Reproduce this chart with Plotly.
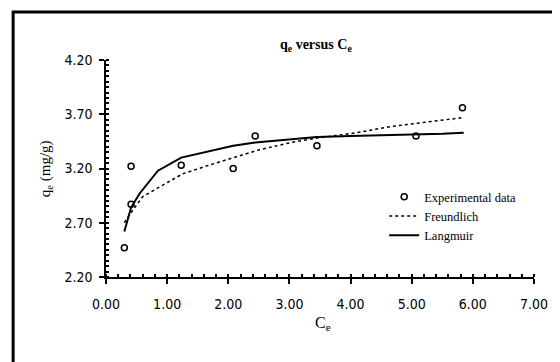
import plotly.graph_objects as go

# Experimental data
exp_x = [0.30, 0.41, 0.41, 1.23, 2.08, 2.44, 3.45, 5.07, 5.83]
exp_y = [2.47, 3.22, 2.87, 3.23, 3.20, 3.50, 3.41, 3.50, 3.76]

# Freundlich fit (dotted)
fr_x = [0.30, 0.39, 0.60, 0.93, 1.25, 1.68, 2.08, 2.49, 3.03, 3.45, 4.10, 4.64, 5.13, 5.45, 5.85]
fr_y = [2.70, 2.78, 2.94, 3.05, 3.15, 3.23, 3.30, 3.37, 3.44, 3.48, 3.53, 3.585, 3.62, 3.64, 3.67]

# Langmuir fit (solid)
la_x = [0.30, 0.41, 0.55, 0.68, 0.85, 1.23, 1.70, 2.08, 2.44, 3.00, 3.45, 4.00, 4.70, 5.07, 5.50, 5.85]
la_y = [2.62, 2.84, 2.97, 3.06, 3.18, 3.30, 3.36, 3.41, 3.44, 3.47, 3.49, 3.50, 3.51, 3.51, 3.52, 3.53]

x_range = [0, 7]
y_range = [2.2, 4.2]

serif = "Liberation Serif"
tickfont = dict(family="DejaVu Sans Condensed", size=14, color="black")

fig = go.Figure()
fig.add_trace(go.Scatter(x=exp_x, y=exp_y, mode="markers", name="Experimental data",
                         marker=dict(symbol="circle-open", size=6, color="black",
                                     line=dict(width=1.5, color="black"))))
fig.add_trace(go.Scatter(x=fr_x, y=fr_y, mode="lines", name="Freundlich",
                         line=dict(color="black", width=1.5, dash="dot")))
fig.add_trace(go.Scatter(x=la_x, y=la_y, mode="lines", name="Langmuir",
                         line=dict(color="black", width=2)))

# page body has an 8px margin, so the figure is 8px smaller and shifted
fig.update_layout(
    width=552, height=354,
    margin=dict(l=98, r=21, t=52, b=85),
    paper_bgcolor="white", plot_bgcolor="white",
    showlegend=True,
    legend=dict(x=0.65, y=0.437, xanchor="left", yanchor="top",
                bgcolor="rgba(0,0,0,0)", font=dict(family=serif, size=12.5, color="black"),
                tracegroupgap=0, itemwidth=30),
    xaxis=dict(range=x_range, dtick=1, tick0=0, tickformat=".2f",
               showgrid=False, zeroline=False, showline=True, linecolor="black", linewidth=1.5,
               ticks="outside", ticklen=5, tickcolor="black", tickwidth=1.5,
               tickfont=tickfont, ticklabelstandoff=8,
               minor=dict(dtick=0.2, ticks="inside", ticklen=3, tickcolor="black", showgrid=False)),
    yaxis=dict(range=y_range, dtick=0.5, tick0=2.2, tickformat=".2f",
               showgrid=False, zeroline=False, showline=True, linecolor="black", linewidth=1.5,
               ticks="outside", ticklen=5, tickcolor="black", tickwidth=1.5,
               tickfont=tickfont, ticklabelstandoff=4,
               minor=dict(dtick=0.05, ticks="inside", ticklen=3, tickcolor="black", showgrid=False)),
    shapes=[dict(type="rect", xref="paper", yref="paper",
                 x0=-0.217, x1=2, y0=-1, y1=1.221,
                 line=dict(color="black", width=3), layer="below")],
    annotations=[
        dict(text="<b>q<sub>e</sub> versus C<sub>e</sub></b>", xref="paper", yref="paper",
             x=0.49, y=1.069, xanchor="center", yanchor="middle", showarrow=False,
             font=dict(family=serif, size=14, color="black")),
        dict(text="C<sub>e</sub>", xref="paper", yref="paper",
             x=0.506, y=-0.212, xanchor="center", yanchor="middle", showarrow=False,
             font=dict(family=serif, size=16, color="black")),
        dict(text="q<sub>e</sub> (mg/g)", xref="paper", yref="paper", textangle=-90,
             x=-0.141, y=0.5, xanchor="center", yanchor="middle", showarrow=False,
             font=dict(family=serif, size=15, color="black")),
    ],
)

fig.write_html("out.html")
